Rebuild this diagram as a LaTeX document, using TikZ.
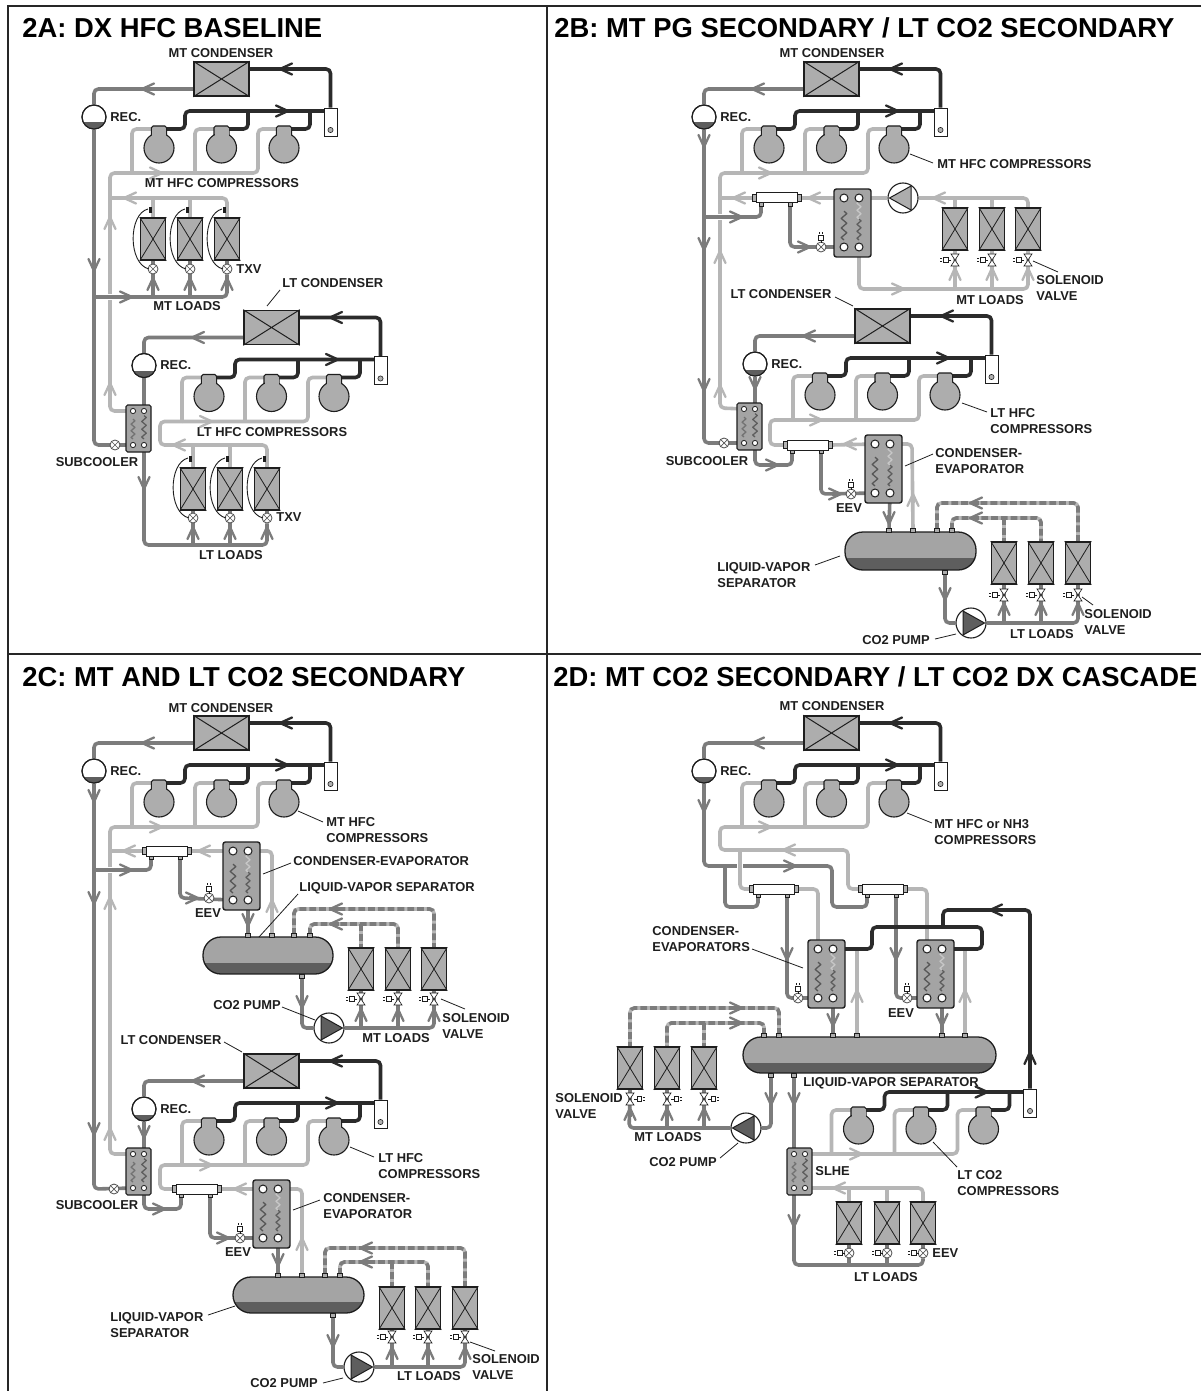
\documentclass[tikz,border=0pt]{standalone}
\usepackage{fontspec}
\setmainfont{Liberation Sans}
\pgfdeclarelayer{bg}\pgfdeclarelayer{pipes}
\pgfsetlayers{bg,pipes,main}
\definecolor{chot}{HTML}{2B2B2B}
\definecolor{cliq}{HTML}{7C7C7C}
\definecolor{csuc}{HTML}{B6B6B6}
\definecolor{cfill}{HTML}{ADADAD}
\definecolor{chx}{HTML}{A4A4A4}
\definecolor{cdark}{HTML}{5E5E5E}
\definecolor{cink}{HTML}{1E1E1E}
\tikzset{
  hot/.style={draw=chot,line width=1.8pt,rounded corners=2.2pt,line join=round},
  liq/.style={draw=cliq,line width=1.8pt,rounded corners=2.2pt,line join=round},
  suc/.style={draw=csuc,line width=1.8pt,rounded corners=2.2pt,line join=round},
  dashbase/.style={draw=csuc,line width=1.8pt,rounded corners=2.2pt},
  dashtop/.style={draw=cliq,line width=1.8pt,rounded corners=2.2pt,dash pattern=on 3.4pt off 1.5pt},
  halo/.style={draw=white,line width=2.8pt},
  cmp/.style={draw=cink,fill=cfill,line width=.55pt},
  evapnode/.style={draw=cink,fill=cfill,line width=.8pt,inner sep=0,minimum width=12.5pt,minimum height=21pt},
  condnode/.style={draw=cink,fill=cfill,line width=.8pt,inner sep=0,minimum width=27.5pt,minimum height=17pt},
  xline/.style={draw=cink,line width=.4pt},
  vnode/.style={circle,draw=cink!80,fill=white,line width=.4pt,inner sep=0,minimum size=5pt},
  boxnode/.style={draw=cink,fill=white,line width=.45pt,inner sep=0,minimum width=6.5pt,minimum height=14pt},
  recnode/.style={circle,draw=cink,fill=white,line width=.55pt,inner sep=0,minimum size=12pt},
  pumpnode/.style={circle,draw=cink,fill=white,line width=.55pt,inner sep=0,minimum size=15pt},
  lab/.style={font=\fontsize{6.45}{7.8}\selectfont\bfseries,text=cink,inner sep=0,align=left},
  ttl/.style={font=\fontsize{13.7}{15}\selectfont\bfseries,text=black,inner sep=0,anchor=west},
  lead/.style={draw=cink,line width=.4pt},
  thin/.style={draw=cink,line width=.3pt},
}
\newcounter{lblc}
\newcommand\tl[3]{\stepcounter{lblc}\node[lab,anchor=west] (lbl\thelblc) at (#1,#2) {#3};}
\newcommand\tc[3]{\stepcounter{lblc}\node[lab,anchor=center] (lbl\thelblc) at (#1,#2) {#3};}
\newcommand\leader[4]{\draw[lead] (#1,#2) -- (#3,#4);}
\newcommand\pipe[2]{\begin{pgfonlayer}{pipes}\draw[#1] #2;\end{pgfonlayer}}
\newcommand\dashpipe[1]{\begin{pgfonlayer}{pipes}\draw[dashbase] #1;\draw[dashtop] #1;\end{pgfonlayer}}
\newcommand\halohere[4]{\begin{pgfonlayer}{pipes}\draw[halo] (#1,#2) -- (#3,#4);\end{pgfonlayer}}
\newcommand\arw[4]{\begin{scope}[shift={(#2,#3)},rotate=#4]
  \draw[draw=#1,line width=1.15pt,line join=round,line cap=round] (-12,-5.5) .. controls (-6,-2.5) .. (0,0) .. controls (-6,2.5) .. (-12,5.5);
  \draw[draw=#1,line width=1.6pt] (-9,0) -- (-1,0);
\end{scope}}
\newcommand\act[3]{\begin{scope}[shift={(#1,#2)},rotate=#3]
  \draw[thin] (4,0) -- (7,0) (7,-2.4) rectangle (11.5,2.4) (12.8,-1.6) -- (15,-1.6) (12.8,1.6) -- (15,1.6);
\end{scope}}
\newcommand\vlv[3]{\node[vnode] (#1) at (#2,#3) {};
  \draw[draw=cink!75,line width=.35pt] (#1.45) -- (#1.225) (#1.135) -- (#1.315);}
\newcommand\txv[3]{\vlv{#1}{#2}{#3}
  \draw[draw=cink,line width=.45pt] (#2-4,#3) .. controls (#2-25,#3-5) and (#2-25,#3-55) .. (#2-5,#3-60);
  \draw[thin,fill=cink] (#2-4,#3-62) rectangle (#2-2,#3-57);}
\newcommand\eevup[3]{\vlv{#1}{#2}{#3}\act{#2}{#3}{90}}
\newcommand\eevleft[3]{\vlv{#1}{#2}{#3}\act{#2}{#3}{180}}
% solenoid valve: name x y actuator-angle
\newcommand\sol[4]{\coordinate (#1) at (#2,#3);
  \draw[thin,fill=white] (#2-4,#3-6) -- (#2+4,#3-6) -- (#2-4,#3+6) -- (#2+4,#3+6) -- cycle;
  \act{#2}{#3}{#4}}
\newcommand\evp[3]{\node[evapnode] (#1) at (#2,#3+21) {};
  \draw[xline] (#1.north west) -- (#1.south east) (#1.north east) -- (#1.south west);}
\newcommand\zig[4]{\begin{scope}[shift={(#1,#2)},scale=#3]
  \draw[draw=#4,line width=.65pt,line join=round] (0,0) -- ++(-3.5,-3) -- ++(7,-6) -- ++(-7,-6) -- ++(7,-6) -- ++(-7,-6) -- ++(7,-6) -- ++(-3.5,-3);
\end{scope}}
\newcommand\phxL[3]{\draw[draw=cink,fill=chx,line width=.7pt,rounded corners=1.2pt] (#2,#3) rectangle (#2+37,#3+68);
  \coordinate (#1-a) at (#2+10,#3+9);\coordinate (#1-b) at (#2+25,#3+9);
  \coordinate (#1-c) at (#2+10,#3+58);\coordinate (#1-d) at (#2+25,#3+58);
  \zig{#2+10}{#3+51}{.8}{cliq!70!black}\zig{#2+25}{#3+51}{.58}{cdark}\zig{#2+25}{#3+30}{.58}{black!22}
  \foreach \p in {a,b,c,d}{\draw[draw=cink,fill=white,line width=.5pt] (#1-\p) circle (4);}}
\newcommand\phxS[3]{\draw[draw=cink,fill=chx,line width=.55pt,rounded corners=.8pt] (#2,#3) rectangle (#2+25,#3+47);
  \coordinate (#1-a) at (#2+7,#3+6);\coordinate (#1-b) at (#2+18,#3+6);
  \coordinate (#1-c) at (#2+7,#3+40);\coordinate (#1-d) at (#2+18,#3+40);
  \zig{#2+7}{#3+34}{.55}{black!55}\zig{#2+18}{#3+34}{.65}{cdark}
  \foreach \p in {a,b,c,d}{\draw[draw=cink,fill=white,line width=.4pt] (#1-\p) circle (2.6);}}
\newcommand\mani[3]{\coordinate (#1-l) at (#2-4,#3);\coordinate (#1-r) at (#2+45,#3);
  \coordinate (#1-a) at (#2+5,#3+8);\coordinate (#1-b) at (#2+34,#3+8);
  \draw[thin,fill=cfill] (#2+3,#3+4) rectangle (#2+7,#3+8) (#2+32,#3+4) rectangle (#2+36,#3+8);
  \draw[thin,fill=black!30] (#2-4,#3-3.5) rectangle (#2,#3+3.5) (#2+41,#3-3.5) rectangle (#2+45,#3+3.5);
  \draw[draw=cink,fill=white,line width=.5pt] (#2,#3-5) rectangle (#2+41,#3+5);}
\newcommand\stub[3]{\coordinate (#1) at (#2,#3);
  \draw[thin,fill=cfill] (#2-2.6,#3-2.2) rectangle (#2+2.6,#3+2.2);}
% name x1 y1 x2 y2 liquid-top
\newcommand\tank[6]{\node[inner sep=0,minimum width={(#4-#2)/2*1pt},minimum height={(#5-#3)/2*1pt}] (#1) at ({(#2+#4)/2},{(#3+#5)/2}) {};
  \begin{scope}
  \clip[rounded corners=9pt] (#2,#3) rectangle (#4,#5);
  \fill[chx] (#2,#3) rectangle (#4,#6);
  \fill[cdark] (#2,#6) rectangle (#4,#5);
  \end{scope}
  \draw[draw=cink,line width=.65pt,rounded corners=9pt] (#2,#3) rectangle (#4,#5);}
\newcommand\pump[5]{\node[pumpnode] (#1) at (#2,#3) {};
  \begin{scope}[shift={(#2,#3)},rotate=#4]
  \draw[draw=cink,fill=#5,line width=.5pt,line join=round] (-8,-12) -- (13.5,0) -- (-8,12) -- cycle;
  \end{scope}}
\newcommand\comp[2]{\coordinate (#1-l) at (#2-7.5,129);\coordinate (#1-r) at (#2+7.5,129);
  \draw[cmp,rounded corners=.8pt] (#2-7.5,136) -- (#2-7.5,126) -- (#2+7.5,126) -- (#2+7.5,136);
  \node[cmp,circle,inner sep=0,minimum size=15pt] (#1) at (#2,148) {};
  \fill[cfill] (#2-7,128) rectangle (#2+7,138);}
% compressor rack: prefix dx dy
\newcommand\rackC[3]{\begin{scope}[shift={(#2,#3)},name prefix=#1-]
  \coordinate (hdr) at (132,173);
  \node[boxnode] (box) at (330.5,122) {};
  \draw[thin,fill=black!30] (330.5,130) circle (2.6);
  \comp{c1}{159}\comp{c2}{221.5}\comp{c3}{284}
  \pipe{suc}{(c1-l) -- (132,129) -- (hdr)}
  \pipe{suc}{(c2-l) -- (195,129) -- (195,173)}
  \pipe{suc}{(c3-l) -- (258,129) -- (258,173) -- (hdr)}
  \pipe{hot}{(c1-r) -- (185,129) -- (185,111) -- (324,111)}
  \pipe{hot}{(c2-r) -- (248,129) -- (248,111)}
  \pipe{hot}{(c3-r) -- (310,129) -- (310,111)}
  \arw{chot}{288}{111}{0}
\end{scope}}
% condenser and receiver: prefix dx dy
\newcommand\rackD[3]{\begin{scope}[shift={(#2,#3)},name prefix=#1-]
  \node[condnode] (cond) at (221.5,79) {};
  \draw[xline,line width=.5pt] (cond.north west) -- (cond.south east) (cond.north east) -- (cond.south west);
  \node[recnode] (rec) at (94,117) {};
  \begin{scope}\clip (94,117) circle (12);\fill[cdark] (80,122.5) rectangle (108,131);\end{scope}
  \draw[draw=cink,line width=.55pt] (94,117) circle (12);
  \pipe{hot}{(box.north) -- (330.5,69) -- (249,69)}
  \pipe{liq}{(cond.west |- 0,89) -- (94,89) -- (rec.north)}
  \arw{chot}{280}{69}{180}
  \arw{cliq}{142}{89}{180}
  \tl{110}{117}{REC.}
\end{scope}}
\begin{document}
\begin{tikzpicture}[x=.5pt,y=-.5pt]
\useasboundingbox (0,0) rectangle (1201,1391);
\begin{pgfonlayer}{bg}\fill[white] (0,0) rectangle (1201,1391);\end{pgfonlayer}
% frame
\draw[draw=black!85,line width=.9pt] (1201,6) -- (8,6) -- (8,1391);
\draw[draw=black!85,line width=.9pt] (547,6) -- (547,1391);
\draw[draw=black!85,line width=.9pt] (8,654) -- (1201,654);
\node[ttl] (t2a) at (22,28) {2A: DX HFC BASELINE};
\node[ttl] (t2b) at (554,28) {2B: MT PG SECONDARY / LT CO2 SECONDARY};
\node[ttl] (t2c) at (22,677) {2C: MT AND LT CO2 SECONDARY};
\node[ttl] (t2d) at (553,677) {2D: MT CO2 SECONDARY / LT CO2 DX CASCADE};

%%%%%%%%%%%%%%%%%%%%%%%% 2A
\rackC{aM}{0}{0}\rackD{aM}{0}{0}
\rackC{aL}{50}{248.5}\rackD{aL}{50}{248.5}
\evp{ae1}{153}{218}\evp{ae2}{190}{218}\evp{ae3}{227}{218}
\txv{at1}{153}{269}\txv{at2}{190}{269}\txv{at3}{227}{269}
\evp{ae4}{193}{468}\evp{ae5}{230}{468}\evp{ae6}{267}{468}
\txv{at4}{193}{518}\txv{at5}{230}{518}\txv{at6}{267}{518}
\phxS{asub}{126}{405}
\vlv{av}{115}{445}
\pipe{suc}{(aM-hdr) -- (110,173) -- (110,411) -- (asub-a)}
\pipe{suc}{(110,198) -- (227,198) -- (ae3.north)}
\pipe{suc}{(153,198) -- (ae1.north)}
\pipe{suc}{(190,198) -- (ae2.north)}
\halohere{104}{297}{116}{297}
\pipe{liq}{(aM-rec.south) -- (94,445) -- (asub-c)}
\pipe{liq}{(94,297) -- (227,297) -- (at3)}
\pipe{liq}{(153,297) -- (at1)}
\pipe{liq}{(190,297) -- (at2)}
\pipe{liq}{(ae1.south) -- (at1)}\pipe{liq}{(ae2.south) -- (at2)}\pipe{liq}{(ae3.south) -- (at3)}
\pipe{liq}{(aL-rec.south) -- (asub-b)}
\pipe{liq}{(asub-d) -- (144,545) -- (267,545) -- (at6)}
\pipe{liq}{(193,545) -- (at4)}\pipe{liq}{(230,545) -- (at5)}
\pipe{liq}{(ae4.south) -- (at4)}\pipe{liq}{(ae5.south) -- (at5)}\pipe{liq}{(ae6.south) -- (at6)}
\pipe{suc}{(aL-hdr) -- (160,421.5) -- (160,445) -- (267,445) -- (ae6.north)}
\pipe{suc}{(193,445) -- (ae4.north)}\pipe{suc}{(230,445) -- (ae5.north)}
\arw{csuc}{162}{173}{0}\arw{csuc}{124}{198}{180}
\arw{csuc}{110}{217}{90}\arw{csuc}{110}{383}{90}
\arw{cliq}{94}{271}{270}\arw{cliq}{132}{297}{0}
\arw{cliq}{153}{278}{90}\arw{cliq}{190}{278}{90}\arw{cliq}{227}{278}{90}
\arw{cliq}{193}{527}{90}\arw{cliq}{230}{527}{90}\arw{cliq}{267}{527}{90}
\arw{cliq}{144}{489}{270}
\arw{csuc}{212}{421.5}{0}\arw{csuc}{173}{445}{180}
\tc{221}{53}{MT CONDENSER}
\tc{222}{183}{MT HFC COMPRESSORS}
\tc{187}{306}{MT LOADS}
\tl{236}{269}{TXV}
\tl{282}{283}{LT CONDENSER}\leader{280}{290}{267}{306}
\tc{272}{432}{LT HFC COMPRESSORS}
\tc{97}{462}{SUBCOOLER}
\tl{276}{517}{TXV}
\tc{231}{555}{LT LOADS}

%%%%%%%%%%%%%%%%%%%%%%%% 2B
\rackC{bM}{610}{0}\rackD{bM}{610}{0}
\rackC{bL}{661}{247}\rackD{bL}{661}{247}
\mani{bh1}{756}{198}
\phxL{bx1}{834}{189}
\pump{bp1}{903}{198}{180}{cfill}
\evp{be1}{955}{208}\evp{be2}{992}{208}\evp{be3}{1028}{208}
\sol{bs1}{955}{260}{180}\sol{bs2}{992}{260}{180}\sol{bs3}{1028}{260}{180}
\eevup{bv1}{821}{247}
\phxS{bsub}{737}{403}
\vlv{bv2}{724}{443}
\mani{bh2}{787}{445}
\phxL{bx2}{865}{435}
\eevup{bv3}{851}{494}
\tank{bt}{845}{532}{976}{570}{558}
\stub{bs4}{889}{530}\stub{bs5}{913}{530}\stub{bs6}{937}{530}\stub{bs7}{952}{530}\stub{bs8}{945}{572}
\evp{be4}{1004}{542}\evp{be5}{1041}{542}\evp{be6}{1078}{542}
\sol{bs9}{1004}{595}{180}\sol{bs10}{1041}{595}{180}\sol{bs11}{1078}{595}{180}
\pump{bp2}{971}{623}{0}{cdark}
\pipe{suc}{(bM-hdr) -- (720,173) -- (720,408) -- (bsub-a)}
\pipe{suc}{(bh1-l) -- (720,198)}
\pipe{suc}{(bh1-r) -- (bx1-a)}
\pipe{suc}{(bx1-b) -- (bp1)}
\pipe{suc}{(bp1) -- (1028,198) -- (be3.north)}
\pipe{suc}{(955,198) -- (be1.north)}\pipe{suc}{(992,198) -- (be2.north)}
\pipe{suc}{(bx1-d) -- (859,289) -- (1028,289) -- (bs3)}
\pipe{suc}{(955,289) -- (bs1)}\pipe{suc}{(992,289) -- (bs2)}
\pipe{suc}{(be1.south) -- (bs1)}\pipe{suc}{(be2.south) -- (bs2)}\pipe{suc}{(be3.south) -- (bs3)}
\halohere{714}{217}{726}{217}
\pipe{liq}{(bM-rec.south) -- (704,443) -- (bsub-c)}
\pipe{liq}{(704,217) -- (761,217) -- (bh1-a)}
\pipe{liq}{(bh1-b) -- (790,247) -- (bx1-c)}
\pipe{liq}{(bL-rec.south) -- (bsub-b)}
\pipe{liq}{(bsub-d) -- (755,465) -- (792,465) -- (bh2-a)}
\pipe{liq}{(bh2-b) -- (821,494) -- (bx2-c)}
\pipe{suc}{(bL-hdr) -- (770,420) -- (770,445) -- (bh2-l)}
\pipe{suc}{(bh2-r) -- (bx2-a)}
\pipe{suc}{(bx2-b) -- (912,444) -- (bs5)}
\pipe{liq}{(bx2-d) -- (bs4)}
\dashpipe{(bs6) -- (937,503) -- (1078,503) -- (be6.north)}
\dashpipe{(bs7) -- (952,518) -- (1041,518) -- (be5.north)}
\dashpipe{(1004,518) -- (be4.north)}
\pipe{liq}{(bs8) -- (945,623) -- (bp2)}
\pipe{liq}{(bp2) -- (1078,623) -- (bs11)}
\pipe{liq}{(1004,623) -- (bs9)}\pipe{liq}{(1041,623) -- (bs10)}
\pipe{liq}{(be4.south) -- (bs9)}\pipe{liq}{(be5.south) -- (bs10)}\pipe{liq}{(be6.south) -- (bs11)}
\arw{csuc}{771}{173}{0}\arw{csuc}{733}{198}{180}\arw{csuc}{808}{198}{180}\arw{csuc}{933}{198}{180}
\arw{csuc}{720}{251}{90}\arw{csuc}{720}{385}{90}
\arw{cliq}{704}{147}{270}\arw{cliq}{704}{250}{270}\arw{cliq}{704}{391}{270}\arw{cliq}{742}{217}{0}\arw{cliq}{810}{247}{0}
\arw{csuc}{955}{268}{90}\arw{csuc}{992}{268}{90}\arw{csuc}{1028}{268}{90}\arw{csuc}{904}{289}{0}
\arw{cliq}{755}{389}{270}
\arw{csuc}{822}{420}{0}\arw{csuc}{844}{444}{180}\arw{csuc}{913}{494}{90}
\arw{cliq}{778}{465}{0}\arw{cliq}{841}{494}{0}\arw{cliq}{889}{524}{270}
\arw{cliq}{945}{600}{270}
\arw{cliq}{1004}{603}{90}\arw{cliq}{1041}{603}{90}\arw{cliq}{1078}{603}{90}
\arw{cliq}{970}{503}{180}\arw{cliq}{970}{518}{180}
\tc{832}{53}{MT CONDENSER}
\tl{937}{164}{MT HFC COMPRESSORS}\leader{910}{154}{933}{163}
\tl{1036}{288}{SOLENOID\\VALVE}\leader{1033}{261}{1058}{272}
\tc{990}{300}{MT LOADS}
\tc{781}{294}{LT CONDENSER}\leader{835}{297}{853}{306}
\tl{990}{421}{LT HFC\\COMPRESSORS}\leader{962}{403}{987}{412}
\tc{707}{461}{SUBCOOLER}
\tl{935}{461}{CONDENSER-\\EVAPORATOR}\leader{905}{466}{933}{454}
\tc{849}{508}{EEV}
\tl{717}{575}{LIQUID-VAPOR\\SEPARATOR}\leader{815}{565}{840}{556}
\tc{896}{640}{CO2 PUMP}\leader{935}{639}{956}{634}
\tc{1042}{634}{LT LOADS}
\tl{1084}{622}{SOLENOID\\VALVE}\leader{1082}{597}{1093}{605}

%%%%%%%%%%%%%%%%%%%%%%%% 2C
\rackC{cM}{0}{654}\rackD{cM}{0}{654}
\rackC{cL}{50}{992}\rackD{cL}{50}{992}
\mani{ch1}{146}{851}
\phxL{cx1}{223}{842}
\eevup{cv1}{209}{898}
\tank{ct1}{203}{937}{333}{974}{963}
\stub{cs1}{248}{935}\stub{cs2}{272}{935}\stub{cs3}{294}{935}\stub{cs4}{310}{935}\stub{cs5}{302}{976}
\evp{ce1}{361}{948}\evp{ce2}{398}{948}\evp{ce3}{434}{948}
\sol{cs6}{361}{999}{180}\sol{cs7}{398}{999}{180}\sol{cs8}{434}{999}{180}
\pump{cp1}{329}{1028}{0}{cdark}
\phxS{csub}{126}{1148}
\vlv{cv2}{114}{1189}
\mani{ch2}{176}{1189}
\phxL{cx2}{253}{1180}
\eevup{cv3}{240}{1238}
\tank{ct2}{233}{1277}{364}{1313}{1302}
\stub{cs9}{278}{1275}\stub{cs10}{302}{1275}\stub{cs11}{325}{1275}\stub{cs12}{340}{1275}\stub{cs13}{333}{1315}
\evp{ce4}{392}{1287}\evp{ce5}{428}{1287}\evp{ce6}{465}{1287}
\sol{cs14}{392}{1337}{180}\sol{cs15}{428}{1337}{180}\sol{cs16}{465}{1337}{180}
\pump{cp2}{359}{1367}{0}{cdark}
\pipe{suc}{(cM-hdr) -- (110,827) -- (110,1154) -- (csub-a)}
\pipe{suc}{(ch1-l) -- (110,851)}
\pipe{suc}{(ch1-r) -- (cx1-a)}
\pipe{suc}{(cx1-b) -- (272,851) -- (cs2)}
\halohere{104}{870}{116}{870}
\pipe{liq}{(cM-rec.south) -- (94,1189) -- (csub-c)}
\pipe{liq}{(94,870) -- (151,870) -- (ch1-a)}
\pipe{liq}{(ch1-b) -- (180,898) -- (cx1-c)}
\pipe{liq}{(cx1-d) -- (cs1)}
\dashpipe{(cs3) -- (294,909) -- (434,909) -- (ce3.north)}
\dashpipe{(cs4) -- (310,924) -- (398,924) -- (ce2.north)}
\dashpipe{(361,924) -- (ce1.north)}
\pipe{liq}{(cs5) -- (302,1028) -- (cp1)}
\pipe{liq}{(cp1) -- (434,1028) -- (cs8)}
\pipe{liq}{(361,1028) -- (cs6)}\pipe{liq}{(398,1028) -- (cs7)}
\pipe{liq}{(ce1.south) -- (cs6)}\pipe{liq}{(ce2.south) -- (cs7)}\pipe{liq}{(ce3.south) -- (cs8)}
\pipe{liq}{(cL-rec.south) -- (csub-b)}
\pipe{liq}{(csub-d) -- (144,1209) -- (181,1209) -- (ch2-a)}
\pipe{liq}{(ch2-b) -- (210,1238) -- (cx2-c)}
\pipe{liq}{(cx2-d) -- (cs9)}
\pipe{suc}{(cL-hdr) -- (160,1165) -- (160,1189) -- (ch2-l)}
\pipe{suc}{(ch2-r) -- (cx2-a)}
\pipe{suc}{(cx2-b) -- (302,1189) -- (cs10)}
\dashpipe{(cs11) -- (325,1248) -- (465,1248) -- (ce6.north)}
\dashpipe{(cs12) -- (340,1262) -- (428,1262) -- (ce5.north)}
\dashpipe{(392,1262) -- (ce4.north)}
\pipe{liq}{(cs13) -- (333,1367) -- (cp2)}
\pipe{liq}{(cp2) -- (465,1367) -- (cs16)}
\pipe{liq}{(392,1367) -- (cs14)}\pipe{liq}{(428,1367) -- (cs15)}
\pipe{liq}{(ce4.south) -- (cs14)}\pipe{liq}{(ce5.south) -- (cs15)}\pipe{liq}{(ce6.south) -- (cs16)}
\arw{csuc}{162}{827}{0}\arw{csuc}{123}{851}{180}\arw{csuc}{198}{851}{180}
\arw{csuc}{110}{897}{90}\arw{csuc}{110}{1128}{90}
\arw{cliq}{94}{802}{270}\arw{cliq}{94}{904}{270}\arw{cliq}{94}{1135}{270}
\arw{cliq}{132}{870}{0}\arw{cliq}{198}{898}{0}
\arw{csuc}{272}{900}{90}\arw{cliq}{248}{926}{270}
\arw{cliq}{302}{1008}{270}
\arw{cliq}{361}{1009}{90}\arw{cliq}{398}{1009}{90}\arw{cliq}{434}{1009}{90}
\arw{cliq}{330}{909}{180}\arw{cliq}{330}{924}{180}
\arw{cliq}{144}{1138}{270}
\arw{csuc}{212}{1165}{0}\arw{cliq}{165}{1209}{0}\arw{cliq}{229}{1238}{0}
\arw{csuc}{234}{1189}{180}\arw{csuc}{302}{1238}{90}\arw{cliq}{278}{1266}{270}
\arw{cliq}{333}{1347}{270}
\arw{cliq}{392}{1347}{90}\arw{cliq}{428}{1347}{90}\arw{cliq}{465}{1347}{90}
\arw{cliq}{360}{1248}{180}\arw{cliq}{360}{1262}{180}
\tc{221}{708}{MT CONDENSER}
\tl{326}{830}{MT HFC\\COMPRESSORS}\leader{298}{811}{323}{822}
\tl{293}{861}{CONDENSER-EVAPORATOR}\leader{263}{874}{291}{863}
\tl{299}{888}{LIQUID-VAPOR SEPARATOR}\leader{259}{937}{298}{894}
\tc{208}{913}{EEV}
\tc{247}{1005}{CO2 PUMP}\leader{282}{1007}{315}{1020}
\tc{396}{1038}{MT LOADS}
\tl{442}{1026}{SOLENOID\\VALVE}\leader{441}{999}{465}{1009}
\tc{171}{1040}{LT CONDENSER}\leader{224}{1042}{242}{1052}
\tl{378}{1166}{LT HFC\\COMPRESSORS}\leader{350}{1147}{374}{1157}
\tc{97}{1205}{SUBCOOLER}
\tl{323}{1206}{CONDENSER-\\EVAPORATOR}\leader{293}{1210}{320}{1200}
\tc{238}{1252}{EEV}
\tl{110}{1325}{LIQUID-VAPOR\\SEPARATOR}\leader{208}{1315}{235}{1306}
\tc{284}{1383}{CO2 PUMP}\leader{323}{1383}{343}{1378}
\tc{429}{1376}{LT LOADS}
\tl{472}{1367}{SOLENOID\\VALVE}\leader{470}{1342}{495}{1351}

%%%%%%%%%%%%%%%%%%%%%%%% 2D
\rackC{dM}{610}{654}\rackD{dM}{610}{654}
\rackC{dL}{699.5}{981}
\mani{dh1}{753}{889}\mani{dh2}{862}{889}
\phxL{dx1}{808}{940}\phxL{dx2}{917}{940}
\eevup{dv1}{798}{998}\eevup{dv2}{907}{998}
\tank{dt}{743}{1037}{996}{1073}{1063}
\stub{ds1}{764}{1035}\stub{ds2}{779}{1035}\stub{ds3}{833}{1035}\stub{ds4}{857}{1035}\stub{ds5}{942}{1035}\stub{ds6}{965}{1035}
\stub{ds7}{771}{1075}\stub{ds8}{794}{1075}
\evp{de1}{630}{1047}\evp{de2}{667}{1047}\evp{de3}{704}{1047}
\sol{ds9}{630}{1099}{0}\sol{ds10}{667}{1099}{0}\sol{ds11}{704}{1099}{0}
\pump{dp}{746}{1128}{180}{cdark}
\phxS{dslhe}{787}{1148}
\evp{de4}{849}{1202}\evp{de5}{887}{1202}\evp{de6}{923}{1202}
\eevleft{dv3}{849}{1253}\eevleft{dv4}{887}{1253}\eevleft{dv5}{923}{1253}
\pipe{liq}{(dM-rec.south) -- (704,866) -- (832,866) -- (832,907) -- (867,907) -- (dh2-a)}
\pipe{liq}{(725,866) -- (725,907) -- (758,907) -- (dh1-a)}
\pipe{suc}{(ds4) -- (857,950)}\pipe{suc}{(ds6) -- (965,950)}
\begin{pgfonlayer}{pipes}\draw[halo] (740,860) -- (740,872);\end{pgfonlayer}
\pipe{suc}{(dM-hdr) -- (720,827) -- (720,850) -- (848,850) -- (848,889) -- (dh2-l)}
\pipe{suc}{(740,850) -- (740,889) -- (dh1-l)}
\pipe{suc}{(dh1-r) -- (818,889) -- (dx1-a)}
\pipe{suc}{(dh2-r) -- (927,889) -- (dx2-a)}
\pipe{liq}{(dh1-b) -- (787,998) -- (dx1-c)}
\pipe{liq}{(dh2-b) -- (896,998) -- (dx2-c)}
\pipe{hot}{(dx1-b) -- (872,949) -- (872,927) -- (982,927) -- (982,949) -- (dx2-b)}
\pipe{hot}{(943,927) -- (943,910) -- (1030,910) -- (dL-box.north)}
\pipe{liq}{(dx1-d) -- (ds3)}\pipe{liq}{(dx2-d) -- (ds5)}
\dashpipe{(ds2) -- (779,1008) -- (630,1008) -- (de1.north)}
\dashpipe{(ds1) -- (764,1023) -- (667,1023) -- (de2.north)}
\dashpipe{(704,1023) -- (de3.north)}
\pipe{liq}{(ds7) -- (771,1128) -- (dp)}
\pipe{liq}{(dp) -- (629,1128) -- (ds9)}
\pipe{liq}{(667,1128) -- (ds10)}\pipe{liq}{(704,1128) -- (ds11)}
\pipe{liq}{(de1.south) -- (ds9)}\pipe{liq}{(de2.south) -- (ds10)}\pipe{liq}{(de3.south) -- (ds11)}
\pipe{liq}{(ds8) -- (794,1265) -- (923,1265) -- (dv5)}
\pipe{liq}{(849,1265) -- (dv3)}\pipe{liq}{(887,1265) -- (dv4)}
\pipe{liq}{(de4.south) -- (dv3)}\pipe{liq}{(de5.south) -- (dv4)}\pipe{liq}{(de6.south) -- (dv5)}
\pipe{suc}{(dL-hdr) -- (dslhe-b)}
\pipe{suc}{(dslhe-d) -- (923,1188) -- (de6.north)}
\pipe{suc}{(849,1188) -- (de4.north)}\pipe{suc}{(887,1188) -- (de5.north)}
\arw{csuc}{771}{827}{0}\arw{csuc}{783}{850}{180}
\arw{cliq}{704}{812}{270}\arw{cliq}{796}{866}{0}
\arw{cliq}{787}{960}{270}\arw{cliq}{896}{960}{270}
\arw{chot}{990}{910}{180}\arw{chot}{1030}{1052}{90}
\arw{csuc}{857}{990}{90}\arw{csuc}{965}{990}{90}
\arw{cliq}{833}{1026}{270}\arw{cliq}{942}{1026}{270}
\arw{cliq}{742}{1008}{0}\arw{cliq}{742}{1023}{0}
\arw{cliq}{771}{1105}{270}\arw{cliq}{794}{1105}{270}\arw{cliq}{794}{1227}{270}
\arw{cliq}{630}{1108}{90}\arw{cliq}{667}{1108}{90}\arw{cliq}{704}{1108}{90}
\arw{csuc}{862}{1154}{0}\arw{csuc}{833}{1188}{180}
\tc{832}{706}{MT CONDENSER}
\tl{934}{832}{MT HFC or NH3\\COMPRESSORS}\leader{907}{813}{932}{823}
\tl{652}{939}{CONDENSER-\\EVAPORATORS}\leader{752}{949}{803}{968}
\tc{901}{1013}{EEV}
\tc{891}{1083}{LIQUID-VAPOR SEPARATOR}
\tl{555}{1106}{SOLENOID\\VALVE}
\tc{668}{1137}{MT LOADS}
\tc{683}{1162}{CO2 PUMP}\leader{720}{1158}{738}{1143}
\tl{815}{1171}{SLHE}
\tl{957}{1183}{LT CO2\\COMPRESSORS}\leader{933}{1142}{957}{1167}
\tc{886}{1277}{LT LOADS}
\tl{932}{1253}{EEV}
\end{tikzpicture}
\end{document}
